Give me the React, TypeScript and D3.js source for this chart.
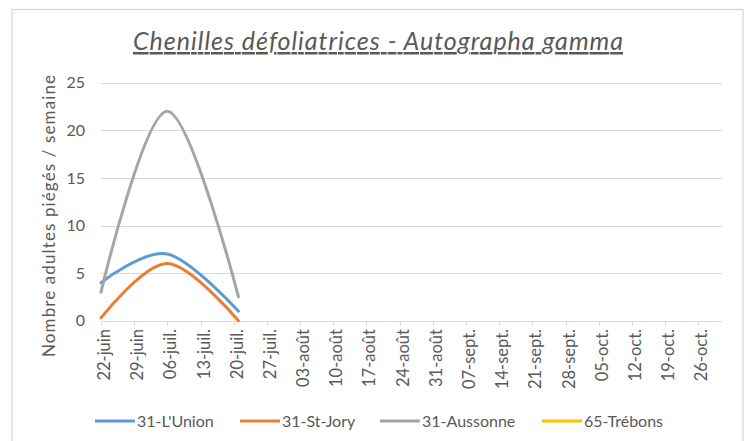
import { useRef, useEffect } from "react";
import * as d3 from "d3";

// weekly ticks of the date axis
const tickDates = [
  "2020-06-22", "2020-06-29", "2020-07-06", "2020-07-13", "2020-07-20",
  "2020-07-27", "2020-08-03", "2020-08-10", "2020-08-17", "2020-08-24",
  "2020-08-31", "2020-09-07", "2020-09-14", "2020-09-21", "2020-09-28",
  "2020-10-05", "2020-10-12", "2020-10-19", "2020-10-26",
];
const tickLabels = [
  "22-juin", "29-juin", "06-juil.", "13-juil.", "20-juil.", "27-juil.",
  "03-août", "10-août", "17-août", "24-août", "31-août", "07-sept.",
  "14-sept.", "21-sept.", "28-sept.", "05-oct.", "12-oct.", "19-oct.", "26-oct.",
];
const axisEnd = "2020-10-31";

// trap readings
const obsDates = ["2020-06-22", "2020-07-06", "2020-07-21"];
const lUnion = [4, 7, 1];
const stJory = [0.3, 6, 0];
const aussonne = [3, 22, 2.5];
const trebons: number[] = [];

const yTicks = [0, 5, 10, 15, 20, 25];

const seriesNames = ["31-L'Union", "31-St-Jory", "31-Aussonne", "65-Trébons"];
const seriesColors = ["#5B9BD5", "#ED7D31", "#A5A5A5", "#FFC000"];

const FONT = "Lato, 'Open Sans', sans-serif";

export default function App() {
  const svgRef = useRef<SVGSVGElement>(null);
  const width = 747;
  const height = 441;

  useEffect(() => {
    if (!svgRef.current) return;
    const svg = d3.select(svgRef.current);
    svg.selectAll("*").remove();

    const parse = d3.utcParse("%Y-%m-%d");
    const x = d3
      .scaleUtc()
      .domain([parse(tickDates[0]) as Date, parse(axisEnd) as Date])
      .range([101, 722]);
    const y = d3.scaleLinear().domain([0, 25]).range([320.7, 82.7]);

    // chart border
    svg.append("rect")
      .attr("x", 12).attr("y", 9.5)
      .attr("width", 731).attr("height", 440)
      .attr("fill", "white")
      .attr("stroke", "#d9d9d9")
      .attr("stroke-width", 1.3);

    // title
    svg.append("text")
      .attr("x", 378).attr("y", 50)
      .attr("text-anchor", "middle")
      .attr("font-family", FONT)
      .attr("font-style", "italic")
      .attr("font-size", 25)
      .attr("fill", "#595959")
      .attr("text-decoration", "underline")
      .attr("textLength", 490)
      .attr("lengthAdjust", "spacing")
      .text("Chenilles défoliatrices - Autographa gamma");

    // gridlines
    svg.append("g")
      .selectAll("line")
      .data(yTicks)
      .join("line")
      .attr("x1", x.range()[0]).attr("x2", x.range()[1])
      .attr("y1", (d) => Math.round(y(d)) + 0.5)
      .attr("y2", (d) => Math.round(y(d)) + 0.5)
      .attr("stroke", "#d9d9d9")
      .attr("stroke-width", 1);

    // y tick labels
    svg.append("g")
      .selectAll("text")
      .data(yTicks)
      .join("text")
      .attr("x", 85)
      .attr("y", (d) => y(d))
      .attr("dy", "0.35em")
      .attr("text-anchor", "end")
      .attr("font-family", FONT)
      .attr("font-size", 16)
      .attr("fill", "#595959")
      .text((d) => d);

    // x ticks + labels
    const xg = svg.append("g");
    tickDates.forEach((t, i) => {
      const xp = Math.round(x(parse(t) as Date)) + 0.5;
      xg.append("line")
        .attr("x1", xp).attr("x2", xp)
        .attr("y1", y(0)).attr("y2", y(0) + 5)
        .attr("stroke", "#d9d9d9");
      xg.append("text")
        .attr("transform", `translate(${xp + 4},329) rotate(-90)`)
        .attr("text-anchor", "end")
        .attr("dominant-baseline", "middle")
        .attr("font-family", FONT)
        .attr("font-size", 16.5)
        .attr("fill", "#595959")
        .text(tickLabels[i]);
    });

    // y axis title
    svg.append("text")
      .attr("transform", "translate(55,216) rotate(-90)")
      .attr("text-anchor", "middle")
      .attr("font-family", FONT)
      .attr("font-size", 17)
      .attr("fill", "#595959")
      .attr("textLength", 282)
      .attr("lengthAdjust", "spacing")
      .text("Nombre adultes piégés / semaine");

    // smoothed lines
    const allSeries = [lUnion, stJory, aussonne, trebons];
    const line = d3
      .line<number>()
      .x((_, i) => x(parse(obsDates[i]) as Date))
      .y((d) => y(d))
      .curve(d3.curveCardinal.tension(0));

    allSeries.forEach((vals, s) => {
      if (!vals.length) return;
      svg.append("path")
        .datum(vals)
        .attr("d", line)
        .attr("fill", "none")
        .attr("stroke", seriesColors[s])
        .attr("stroke-width", 3)
        .attr("stroke-linecap", "round")
        .attr("stroke-linejoin", "round");
    });

    // legend
    const legendX = [95, 240, 380, 542];
    const lg = svg.append("g");
    seriesNames.forEach((name, i) => {
      lg.append("line")
        .attr("x1", legendX[i]).attr("x2", legendX[i] + 40)
        .attr("y1", 421).attr("y2", 421)
        .attr("stroke", seriesColors[i])
        .attr("stroke-width", 3);
      lg.append("text")
        .attr("x", legendX[i] + 42)
        .attr("y", 421)
        .attr("dy", "0.35em")
        .attr("font-family", FONT)
        .attr("font-size", 16)
        .attr("fill", "#595959")
        .text(name);
    });
  }, []);

  return (
    <svg
      ref={svgRef}
      width={width}
      height={height}
      style={{ position: "absolute", left: 0, top: 0, background: "white" }}
    />
  );
}
